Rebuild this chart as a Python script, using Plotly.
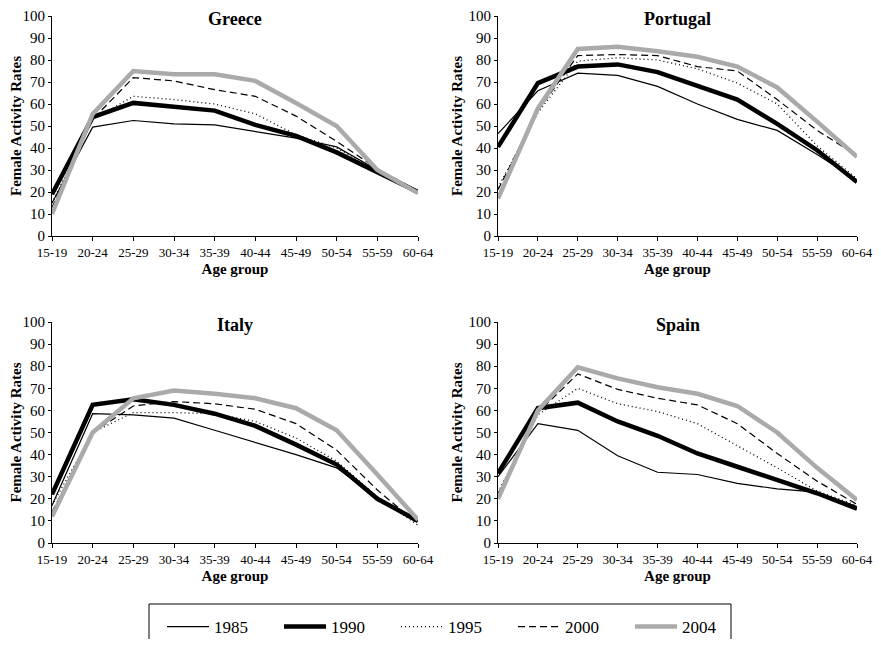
import plotly.graph_objects as go

age_groups = ["15-19", "20-24", "25-29", "30-34", "35-39", "40-44", "45-49", "50-54", "55-59", "60-64"]
years = ["1985", "1990", "1995", "2000", "2004"]
countries = ["Greece", "Portugal", "Italy", "Spain"]

greece_1985 = [15, 49.5, 52.5, 51, 50.5, 47.5, 44.5, 40.5, 30, 20.5]
greece_1990 = [19, 54, 60.5, 59, 57, 50.5, 45.5, 38, 29, 20]
greece_1995 = [15, 53, 63.5, 62, 60, 55.5, 46, 40, 30, 20.5]
greece_2000 = [13, 53, 72, 70.5, 66.5, 63.5, 54.5, 43, 30.5, 20.5]
greece_2004 = [10, 55.5, 75, 73.5, 73.5, 70.5, 60.5, 50, 30, 19.5]

portugal_1985 = [46.5, 66, 74, 73, 68, 60, 53, 48, 37, 25.5]
portugal_1990 = [40.5, 69.5, 77, 78, 74.5, 68, 62, 51, 39, 24.5]
portugal_1995 = [22, 56, 79.5, 81, 80, 76, 69.5, 60, 41, 26]
portugal_2000 = [21, 57, 82, 82.5, 82, 77, 75, 62, 48, 36.5]
portugal_2004 = [17, 58, 85, 86, 84, 81.5, 77, 67.5, 52, 36]

italy_1985 = [17, 58.5, 58, 56.5, 51, 45.5, 40, 34, 20, 10]
italy_1990 = [22, 62.5, 65, 62.5, 58.5, 53, 44.5, 35.5, 20, 10]
italy_1995 = [17, 50, 59, 59, 58.5, 55, 47.5, 37, 21, 8]
italy_2000 = [14, 50, 62, 64, 63, 60.5, 54, 42, 24, 8.5]
italy_2004 = [12, 50, 65.5, 69, 67.5, 65.5, 61, 51, 31, 10.5]

spain_1985 = [30, 54, 51, 39.5, 32, 31, 27, 24.5, 23, 16.5]
spain_1990 = [31.5, 61, 63.5, 55, 48.5, 40.5, 34.5, 28.5, 22.5, 15.5]
spain_1995 = [23, 58, 70, 63, 59.5, 54, 44, 34, 23.5, 17]
spain_2000 = [22, 59, 76.5, 69.5, 65.5, 62.5, 54, 40.5, 28, 17.5]
spain_2004 = [20, 60, 79.5, 74.5, 70.5, 67.5, 62, 50, 34, 19.5]

y_ticks = [0, 10, 20, 30, 40, 50, 60, 70, 80, 90, 100]

series = {
    "Greece": [greece_1985, greece_1990, greece_1995, greece_2000, greece_2004],
    "Portugal": [portugal_1985, portugal_1990, portugal_1995, portugal_2000, portugal_2004],
    "Italy": [italy_1985, italy_1990, italy_1995, italy_2000, italy_2004],
    "Spain": [spain_1985, spain_1990, spain_1995, spain_2000, spain_2004],
}

styles = [
    dict(color="black", width=1.2, dash="solid"),
    dict(color="black", width=4.5, dash="solid"),
    dict(color="black", width=1.3, dash="1px,3px"),
    dict(color="black", width=1.2, dash="7px,4px"),
    dict(color="#aaaaaa", width=4.5, dash="solid"),
]

# page body has an 8px margin on every side; keep the figure inside the viewport
OFF = 8
W, H = 881 - 2 * OFF, 647 - 2 * OFF
SERIF = "Liberation Serif"


def px(xs):
    return (xs - OFF) / W


def py(ys):
    return 1 - (ys - OFF) / H


# panel screen-pixel geometry: (left, right, top, bottom)
panels = {
    "Greece": (52, 418, 16, 236),
    "Portugal": (498, 857, 16, 236),
    "Italy": (52, 418, 322, 543),
    "Spain": (498, 857, 322, 543),
}

fig = go.Figure()
x_idx = list(range(len(age_groups)))
annotations = []
layout_axes = {}

for i, c in enumerate(countries, start=1):
    sfx = "" if i == 1 else str(i)
    for j, (yr, st) in enumerate(zip(years, styles)):
        fig.add_trace(go.Scatter(
            x=x_idx, y=series[c][j], mode="lines", name=yr,
            line=dict(color=st["color"], width=st["width"], dash=st["dash"]),
            xaxis="x" + sfx, yaxis="y" + sfx,
            showlegend=(i == 1),
        ))
    l, r, t, b = panels[c]
    layout_axes["xaxis" + sfx] = dict(
        domain=[px(l), px(r)], anchor="y" + sfx, range=[0, 9],
        tickvals=x_idx, ticktext=age_groups,
        showline=True, linecolor="black", linewidth=1,
        ticks="outside", ticklen=4, tickcolor="black",
        showgrid=False, zeroline=False, ticklabeloverflow="allow",
        tickfont=dict(family=SERIF, size=13, color="black"),
        title=dict(text="<b>Age group</b>", font=dict(family=SERIF, size=15, color="black"), standoff=4),
    )
    layout_axes["yaxis" + sfx] = dict(
        domain=[py(b), py(t)], anchor="x" + sfx, range=[0, 100],
        tickvals=y_ticks,
        showline=True, linecolor="black", linewidth=1,
        ticks="outside", ticklen=3, tickcolor="black",
        showgrid=False, zeroline=False, ticklabeloverflow="allow",
        tickfont=dict(family=SERIF, size=15, color="black"),
        title=dict(text="<b>Female Activity Rates</b>", font=dict(family=SERIF, size=15, color="black"), standoff=2),
    )
    annotations.append(dict(
        text="<b>%s</b>" % c, x=px((l + r) / 2), y=py(t + 3),
        xref="paper", yref="paper", xanchor="center", yanchor="middle",
        showarrow=False, font=dict(family=SERIF, size=18, color="black"),
    ))

fig.update_layout(
    width=W, height=H,
    margin=dict(l=0, r=0, t=0, b=0, autoexpand=False),
    paper_bgcolor="white", plot_bgcolor="white",
    annotations=annotations,
    showlegend=True,
    legend=dict(
        orientation="h", x=px(162), y=py(627), xanchor="left", yanchor="middle",
        font=dict(family=SERIF, size=17, color="black"),
        itemwidth=42,
        entrywidth=60, entrywidthmode="pixels", traceorder="normal",
        bgcolor="rgba(0,0,0,0)", borderwidth=0,
    ),
    shapes=[dict(
        type="rect", xref="paper", yref="paper",
        x0=px(149), x1=px(731), y0=py(604), y1=-0.1,
        line=dict(color="black", width=1),
    )],
    **layout_axes,
)

fig.write_html("out.html")
